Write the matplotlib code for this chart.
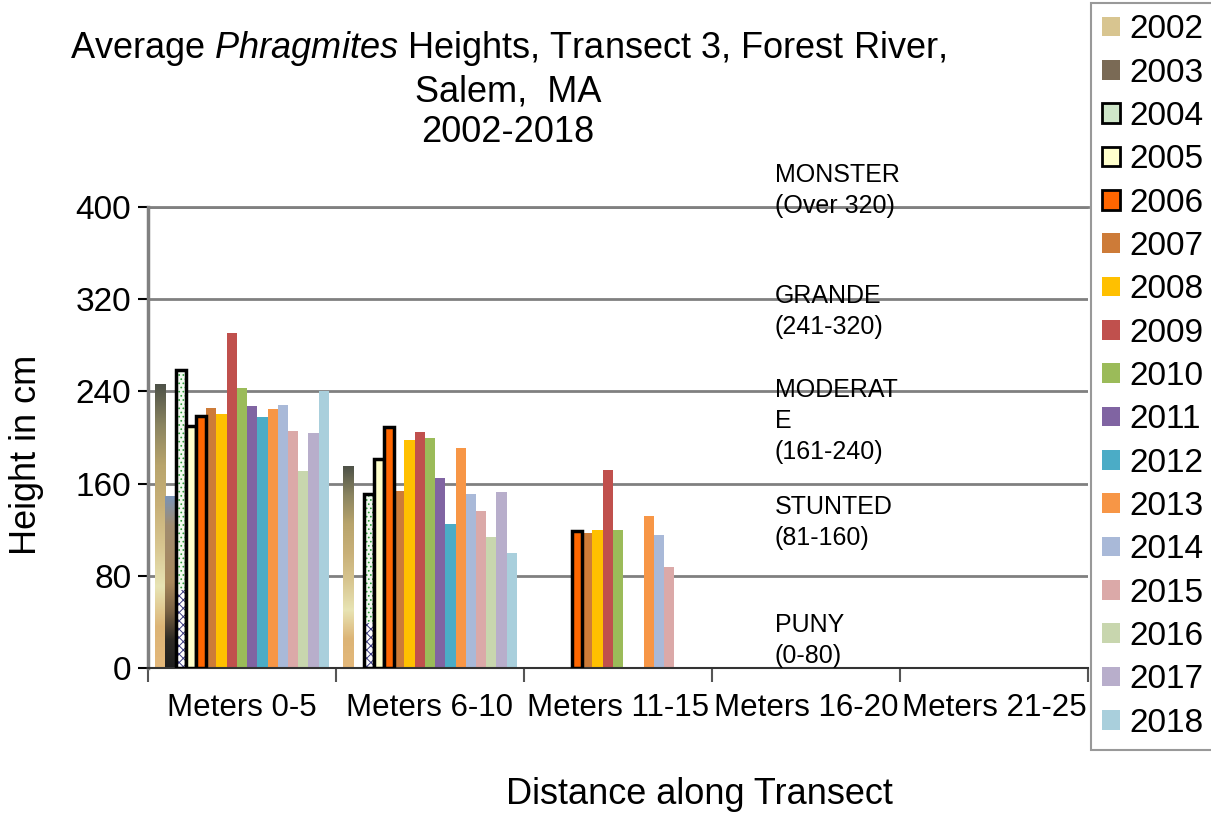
import numpy as np
import matplotlib
matplotlib.use('Agg')
import matplotlib.pyplot as plt
from matplotlib.patches import Patch
from matplotlib.colors import LinearSegmentedColormap

plt.rcParams['font.family'] = ['Liberation Sans', 'DejaVu Sans']
plt.rcParams['mathtext.fontset'] = 'custom'
plt.rcParams['mathtext.rm'] = 'Liberation Sans'
plt.rcParams['mathtext.it'] = 'Liberation Sans:italic'
plt.rcParams['hatch.linewidth'] = 0.7

nan = np.nan
years = ['2002', '2003', '2004', '2005', '2006', '2007', '2008', '2009', '2010',
         '2011', '2012', '2013', '2014', '2015', '2016', '2017', '2018']
categories = ['Meters 0-5', 'Meters 6-10', 'Meters 11-15', 'Meters 16-20', 'Meters 21-25']

# heights (cm) per transect segment, one value per year
m0_5 = [246, 149, 259, 210, 219, 226, 220, 291, 243, 227, 218, 225, 228, 206, 171, 204, 240]
m6_10 = [175, nan, 151, 181, 209, 154, 198, 205, 200, 165, 125, 191, 151, 136, 114, 153, 100]
m11_15 = [nan, nan, nan, nan, 119, 117, 120, 172, 120, nan, nan, 132, 115, 88, nan, nan, nan]
m16_20 = [nan] * 17
m21_25 = [nan] * 17

colors = ['#d8c590', '#7a6a55', '#cfe6c9', '#ffffcc', '#ff6600', '#cd7b38', '#ffc000',
          '#c0504d', '#9bbb59', '#8064a2', '#4bacc6', '#f79646', '#a9b9d8', '#dba9a8',
          '#c8d6ae', '#b8aecb', '#a9cfdc']
outlined = ['2004', '2005', '2006']

classes = ['MONSTER\n(Over 320)', 'GRANDE\n(241-320)', 'MODERAT\nE\n(161-240)',
           'STUNTED\n(81-160)', 'PUNY\n(0-80)']
class_y = [438, 333, 252, 150, 48]

data = np.array([m0_5, m6_10, m11_15, m16_20, m21_25])  # groups x years

fig = plt.figure(figsize=(12.11, 8.15), dpi=100)
ax = fig.add_axes([148/1211, 1-668/815, 940/1211, 461/815])

x = np.arange(len(categories))
n = len(years)
w = 0.925 / n

# picture-like fills for 2002 and 2003 (bottom -> top)
grad = {
    '2002': LinearSegmentedColormap.from_list('g02', ['#e4b87a', '#dcb476', '#e8e4b4', '#d8c690',
                                                      '#c8b078', '#b8a46c', '#8a8460', '#4e5248']),
    '2003': LinearSegmentedColormap.from_list('g03', ['#1e1e1e', '#2e2a24', '#7a6244', '#a8885c',
                                                      '#a48a66', '#a08c70', '#7a94b8']),
}

for k, yr in enumerate(years):
    pos = x - 0.4625 + w * (k + 0.5)
    vals = data[:, k]
    if yr in grad:
        bars = ax.bar(pos, vals, w, color=colors[k], linewidth=0, zorder=2)
        for b in bars:
            h = b.get_height()
            if np.isnan(h):
                continue
            bx, by = b.get_xy()
            im = ax.imshow(np.linspace(1, 0, 256).reshape(-1, 1), cmap=grad[yr], aspect='auto',
                           extent=[bx, bx + w, 0, h], zorder=2.5, interpolation='bilinear')
            im.set_clip_path(b)
    elif yr == '2004':
        low = vals * 0.26
        ax.bar(pos, low, w, facecolor='white', hatch='xxxx', edgecolor='#3b3b80', linewidth=0, zorder=2)
        ax.bar(pos, vals - low, w, bottom=low, facecolor='#f3faf1', hatch='....',
               edgecolor='#2f9e3a', linewidth=0, zorder=2)
        ax.bar(pos, vals, w, fill=False, edgecolor='black', linewidth=2.5, zorder=3)
    elif yr in outlined:
        ax.bar(pos, vals, w, color=colors[k], edgecolor='black', linewidth=2.5, zorder=3)
    else:
        ax.bar(pos, vals, w, color=colors[k], linewidth=0, zorder=2)

ax.set_xlim(-0.5, len(categories) - 0.5)
ax.set_ylim(0, 400)
ax.set_yticks([0, 80, 160, 240, 320, 400])
ax.tick_params(axis='y', labelsize=24, length=7, width=1.5, pad=5)
ax.yaxis.grid(True, color='#808080', linewidth=2)
ax.set_axisbelow(True)

ax.set_xticks(np.arange(len(categories) + 1) - 0.5)
ax.set_xticklabels([])
ax.tick_params(axis='x', which='major', length=10, width=1.5, color='#555555')
ax.set_xticks(x, minor=True)
ax.set_xticklabels(categories, minor=True)
ax.tick_params(axis='x', which='minor', length=0, labelsize=22.5, pad=18)

ax.spines['left'].set_color('#808080')
ax.spines['left'].set_linewidth(2.5)
ax.spines['top'].set_color('#808080')
ax.spines['top'].set_linewidth(2)
ax.spines['right'].set_visible(False)
ax.spines['bottom'].set_color('#333333')
ax.spines['bottom'].set_linewidth(1.5)

for txt, yy in zip(classes, class_y):
    ax.text(2.835, yy, txt, fontsize=18, va='top', ha='left', linespacing=1.38)

fig.text(508/1211, 1-58/815, 'Average $\\it{Phragmites}$ Heights, Transect 3, Forest River,',
         fontsize=26, ha='center', va='baseline')
fig.text(508/1211, 1-101/815, 'Salem,  MA', fontsize=26, ha='center', va='baseline')
fig.text(508/1211, 1-142/815, '2002-2018', fontsize=26, ha='center', va='baseline')
fig.text(27/1211, 1-455/815, 'Height in cm', fontsize=26, rotation=90, ha='center', va='center')
fig.text(699/1211, 1-795/815, 'Distance along Transect', fontsize=26, ha='center', va='center')

handles = []
for k, yr in enumerate(years):
    ec = 'black' if yr in outlined else 'none'
    handles.append(Patch(facecolor=colors[k], edgecolor=ec, linewidth=2 if yr in outlined else 0))
leg = fig.legend(handles, years, loc='upper left', bbox_to_anchor=(1091/1211, 1 - 3/815),
                 bbox_transform=fig.transFigure, fontsize=24, frameon=True, fancybox=False,
                 borderaxespad=0, borderpad=0.34, labelspacing=0.37, handlelength=0.52,
                 handleheight=0.52, handletextpad=0.3)
leg.get_frame().set_edgecolor('#808080')
leg.get_frame().set_linewidth(1.5)

fig.savefig('out.png', dpi=100)
